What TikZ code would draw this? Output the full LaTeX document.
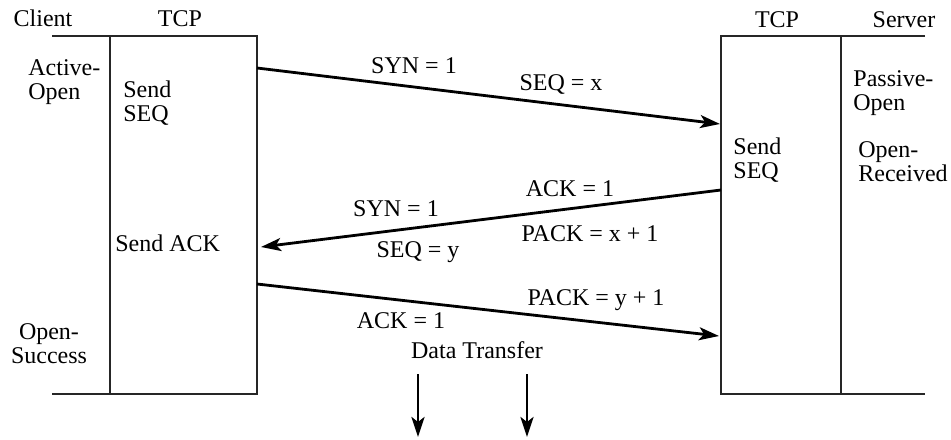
\documentclass[tikz,border=0pt]{standalone}
\usepackage{fontspec}
\setmainfont{Liberation Serif}
\usetikzlibrary{arrows.meta}
\begin{document}
\begin{tikzpicture}[x=0.5pt,y=-0.5pt,
  lbl/.style={font=\fontsize{12}{11.75}\selectfont, inner sep=0pt},
  lane/.style={line width=1pt, black!85},
  msg/.style={line width=1.4pt, -{Stealth[length=10pt,width=6.5pt,inset=2.5pt]}},
  flow/.style={line width=1.4pt, -{Stealth[length=10pt,width=6.5pt,inset=2.5pt]}},
]
\useasboundingbox (0,0) rectangle (951,439);

% client side: application column and TCP column
\draw[lane] (52,36) -- (257,36) -- (257,394) -- (52,394);
\draw[lane] (110,36) -- (110,394);

% server side: TCP column and application column
\draw[lane] (925,36) -- (721,36) -- (721,394) -- (925,394);
\draw[lane] (841,36) -- (841,394);

% column headings
\node[lbl, anchor=base] (hclient) at (43,26) {Client};
\node[lbl, anchor=base] (htcpc) at (180,26) {TCP};
\node[lbl, anchor=base] (htcps) at (777,27) {TCP};
\node[lbl, anchor=base] (hserver) at (904,27) {Server};

% client states and actions (base = last line)
\node[lbl, anchor=base west, align=left] (actopen) at (28,99) {Active-\\Open};
\node[lbl, anchor=base west, align=left] (sendseqc) at (123,121) {Send\\SEQ};
\node[lbl, anchor=base west] (sendack) at (115,251) {Send ACK};
\node[lbl, anchor=base, align=center] (opensucc) at (49,363) {Open-\\Success};

% server states and actions
\node[lbl, anchor=base west, align=left] (pasopen) at (853,110) {Passive-\\Open};
\node[lbl, anchor=base west, align=left] (openrecv) at (858,181) {Open-\\Received};
\node[lbl, anchor=base west, align=left] (sendseqs) at (733,178) {Send\\SEQ};

% message end points on the TCP columns
\coordinate (c1) at (257,68);
\coordinate (s1) at (720,124);
\coordinate (s2) at (721,190);
\coordinate (c2) at (261,247);
\coordinate (c3) at (257,284);
\coordinate (s3) at (719,336);

% three-way handshake
\draw[msg] (c1) -- (s1);
\draw[msg] (s2) -- (c2);
\draw[msg] (c3) -- (s3);

% segment fields
\node[lbl, anchor=base] (syn1) at (414,73) {SYN = 1};
\node[lbl, anchor=base] (seqx) at (561,90) {SEQ = x};
\node[lbl, anchor=base] (ack1a) at (570,196) {ACK = 1};
\node[lbl, anchor=base] (syn2) at (396,216) {SYN = 1};
\node[lbl, anchor=base] (packx) at (590,241) {PACK = x + 1};
\node[lbl, anchor=base] (seqy) at (418,257) {SEQ = y};
\node[lbl, anchor=base] (packy) at (596,305) {PACK = y + 1};
\node[lbl, anchor=base] (ack1b) at (401,328) {ACK = 1};

% data transfer
\node[lbl, anchor=base] (data) at (477,358) {Data Transfer};
\coordinate (d1top) at (418,374);
\coordinate (d1bot) at (418,437);
\coordinate (d2top) at (527,374);
\coordinate (d2bot) at (527,437);
\draw[flow] (d1top) -- (d1bot);
\draw[flow] (d2top) -- (d2bot);
\end{tikzpicture}
\end{document}
